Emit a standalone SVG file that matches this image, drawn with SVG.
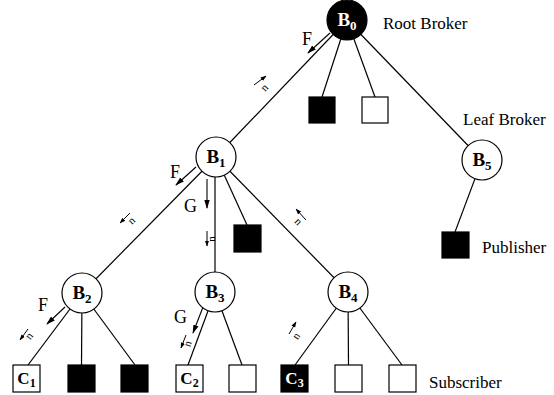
<svg xmlns="http://www.w3.org/2000/svg" width="554" height="395" viewBox="0 0 554 395">
  <defs>
    <marker id="head" viewBox="0 0 10 10" refX="9" refY="5" markerWidth="6" markerHeight="6" orient="auto" markerUnits="userSpaceOnUse">
      <path d="M0,1.5 L10,5 L0,8.5 Z" fill="#000"/>
    </marker>
    <marker id="headBig" viewBox="0 0 10 10" refX="9" refY="5" markerWidth="9" markerHeight="9" orient="auto" markerUnits="userSpaceOnUse">
      <path d="M0,2 L10,5 L0,8 Z" fill="#000"/>
    </marker>
    <style>
      .edge { stroke: #000; stroke-width: 1.2; fill: none; }
      .broker { fill: #fff; stroke: #000; stroke-width: 1.2; }
      .root { fill: #000; stroke: #000; stroke-width: 1.2; }
      .box { fill: #fff; stroke: #000; stroke-width: 1.2; }
      .fbox { fill: #000; stroke: #000; stroke-width: 1.2; }
      .bl { font-family: "Liberation Serif", "Times New Roman", serif; font-weight: bold; font-size: 19px; text-anchor: middle; }
      .cl { font-family: "Liberation Serif", "Times New Roman", serif; font-weight: bold; font-size: 17px; text-anchor: middle; }
      .lbl { font-family: "Liberation Serif", "Times New Roman", serif; font-size: 17px; }
      .fl { font-family: "Liberation Serif", "Times New Roman", serif; font-size: 18px; }
      .n { font-family: "Liberation Serif", "Times New Roman", serif; font-size: 11px; text-anchor: middle; }
      .flow { stroke: #000; stroke-width: 1.1; fill: none; marker-end: url(#headBig); }
      .tick { stroke: #000; stroke-width: 1; fill: none; marker-end: url(#head); }
    </style>
  </defs>

  <!-- tree links -->
  <g id="connectors">
    <line class="edge" x1="347" y1="20" x2="216" y2="157"/>
    <line class="edge" x1="347" y1="20" x2="322" y2="97"/>
    <line class="edge" x1="347" y1="20" x2="375" y2="97"/>
    <line class="edge" x1="347" y1="20" x2="482" y2="160"/>
    <line class="edge" x1="216" y1="157" x2="82" y2="293"/>
    <line class="edge" x1="215" y1="157" x2="215" y2="292"/>
    <line class="edge" x1="216" y1="157" x2="247" y2="225"/>
    <line class="edge" x1="216" y1="157" x2="348" y2="292"/>
    <line class="edge" x1="482" y1="160" x2="455" y2="232"/>
    <line class="edge" x1="82" y1="293" x2="28" y2="365"/>
    <line class="edge" x1="82" y1="293" x2="81.5" y2="365"/>
    <line class="edge" x1="82" y1="293" x2="135" y2="365"/>
    <line class="edge" x1="215" y1="292" x2="188" y2="365"/>
    <line class="edge" x1="215" y1="292" x2="242" y2="365"/>
    <line class="edge" x1="348" y1="292" x2="295" y2="365"/>
    <line class="edge" x1="348" y1="292" x2="348.5" y2="365"/>
    <line class="edge" x1="348" y1="292" x2="402" y2="365"/>
  </g>

  <!-- message flow arrows (F, G) -->
  <g id="flows">
    <line class="flow" x1="330" y1="33" x2="308" y2="53"/>
    <text class="fl" x="302" y="45">F</text>
    <line class="flow" x1="196" y1="167" x2="176" y2="185"/>
    <text class="fl" x="170" y="178">F</text>
    <line class="flow" x1="207" y1="179" x2="207" y2="208"/>
    <text class="fl" x="184" y="212">G</text>
    <line class="flow" x1="65" y1="307" x2="47" y2="324"/>
    <text class="fl" x="38" y="311">F</text>
    <line class="flow" x1="203" y1="307" x2="193" y2="333"/>
    <text class="fl" x="174" y="323">G</text>
  </g>

  <!-- notification direction marks -->
  <g id="marks">
    <line class="tick" x1="254" y1="85" x2="266" y2="76"/>
    <text class="n" transform="translate(267,90) rotate(-46)">n</text>

    <line class="tick" x1="130" y1="213" x2="120" y2="223"/>
    <text class="n" transform="translate(134,223) rotate(-45)">n</text>

    <line class="tick" x1="207" y1="231" x2="207" y2="246"/>
    <text class="n" transform="translate(215,239) rotate(-90)">n</text>

    <line class="tick" x1="306" y1="220" x2="296" y2="209"/>
    <text class="n" transform="translate(296,224) rotate(45)">n</text>

    <line class="tick" x1="28" y1="329" x2="20" y2="340"/>
    <text class="n" transform="translate(32,338) rotate(-53)">n</text>

    <line class="tick" x1="186" y1="335" x2="181" y2="348"/>
    <text class="n" transform="translate(191,345) rotate(-70)">n</text>

    <line class="tick" x1="289" y1="334" x2="296" y2="322"/>
    <text class="n" transform="translate(299,338) rotate(-56)">n</text>
  </g>

  <!-- brokers -->
  <g id="B0">
    <circle class="root" cx="347" cy="20" r="20"/>
    <text class="bl" x="347" y="26" fill="#fff">B<tspan dy="4" font-size="13">0</tspan></text>
  </g>
  <g id="B1">
    <circle class="broker" cx="216" cy="157" r="20"/>
    <text class="bl" x="216" y="163">B<tspan dy="4" font-size="13">1</tspan></text>
  </g>
  <g id="B2">
    <circle class="broker" cx="82" cy="293" r="20"/>
    <text class="bl" x="82" y="299">B<tspan dy="4" font-size="13">2</tspan></text>
  </g>
  <g id="B3">
    <circle class="broker" cx="215" cy="292" r="20"/>
    <text class="bl" x="215" y="298">B<tspan dy="4" font-size="13">3</tspan></text>
  </g>
  <g id="B4">
    <circle class="broker" cx="348" cy="292" r="20"/>
    <text class="bl" x="348" y="298">B<tspan dy="4" font-size="13">4</tspan></text>
  </g>
  <g id="B5">
    <circle class="broker" cx="482" cy="160" r="20"/>
    <text class="bl" x="482" y="166">B<tspan dy="4" font-size="13">5</tspan></text>
  </g>

  <!-- clients under the root -->
  <g id="R1"><rect class="fbox" x="309" y="97" width="26" height="26"/></g>
  <g id="R2"><rect class="box" x="362" y="97" width="26" height="26"/></g>
  <!-- client under B1 -->
  <g id="K1"><rect class="fbox" x="234" y="225" width="27" height="27"/></g>
  <!-- publisher under B5 -->
  <g id="P1"><rect class="fbox" x="442" y="232" width="27" height="26"/></g>

  <!-- bottom row of clients -->
  <g id="C1">
    <rect class="box" x="13" y="365" width="27" height="27"/>
    <text class="cl" x="26.5" y="384">C<tspan dy="3" font-size="12">1</tspan></text>
  </g>
  <g id="L1"><rect class="fbox" x="68" y="365" width="27" height="27"/></g>
  <g id="L2"><rect class="fbox" x="121" y="365" width="27" height="27"/></g>
  <g id="C2">
    <rect class="box" x="176" y="365" width="27" height="27"/>
    <text class="cl" x="189.5" y="384">C<tspan dy="3" font-size="12">2</tspan></text>
  </g>
  <g id="L3"><rect class="box" x="229" y="365" width="27" height="27"/></g>
  <g id="C3">
    <rect class="fbox" x="281" y="365" width="27" height="27"/>
    <text class="cl" x="294.5" y="384" fill="#fff">C<tspan dy="3" font-size="12">3</tspan></text>
  </g>
  <g id="L4"><rect class="box" x="335" y="365" width="27" height="27"/></g>
  <g id="L5"><rect class="box" x="389" y="365" width="27" height="27"/></g>

  <!-- role captions -->
  <g id="captions">
    <text class="lbl" x="383" y="29">Root Broker</text>
    <text class="lbl" x="463" y="125">Leaf Broker</text>
    <text class="lbl" x="482" y="253">Publisher</text>
    <text class="lbl" x="429" y="388">Subscriber</text>
  </g>
</svg>
